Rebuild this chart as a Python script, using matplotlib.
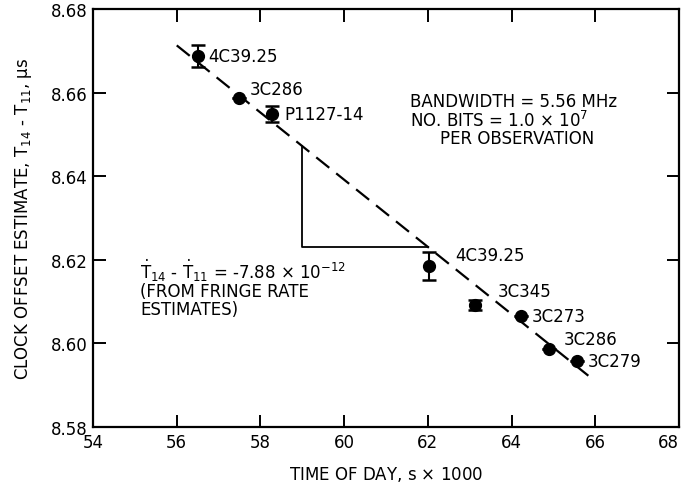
import matplotlib
matplotlib.use("Agg")
import matplotlib.pyplot as plt

plt.rcParams['font.family'] = ['DejaVu Sans']
plt.rcParams['mathtext.default'] = 'regular'

# ---- data ----
sources = ["4C39.25", "3C286", "P1127-14", "4C39.25", "3C345", "3C273", "3C286", "3C279"]
time_ks = [56.51, 57.49, 58.28, 62.03, 63.13, 64.22, 64.89, 65.56]
offset_us = [8.6688, 8.6587, 8.6549, 8.6185, 8.6092, 8.6066, 8.5987, 8.5958]
offset_err = [0.0026, 0.0, 0.0019, 0.0034, 0.0012, 0.0, 0.0, 0.0]
# label offsets (pixels) relative to each point
label_dx = [10, 11, 12, 26, 23, 11, 15, 11]
label_dy = [0, 9, 0, 11, 14, 0, 10, 0]

fit_x = [56.0, 65.93]
fit_y = [8.6713, 8.5915]
tri_x = [59.0, 59.0, 62.0]
tri_y = [8.6472, 8.623, 8.623]

x_ticks = [54, 56, 58, 60, 62, 64, 66, 68]
y_ticks = [8.58, 8.60, 8.62, 8.64, 8.66, 8.68]

W, H = 681.0, 489.0
fig = plt.figure(figsize=(6.81, 4.89), dpi=100)
ax = fig.add_axes([0.1366, 0.1247, 0.8605, 0.8548])

ax.plot(fit_x, fit_y, color='black', lw=1.6, linestyle=(0, (7.5, 4)), zorder=2)
ax.plot(tri_x, tri_y, color='black', lw=1.3, zorder=2)

ax.errorbar(time_ks, offset_us, yerr=offset_err, fmt='o', color='black',
            markersize=8.5, ecolor='black', elinewidth=1.5, capsize=5,
            capthick=1.8, zorder=3)

for name, x, y, dx, dy in zip(sources, time_ks, offset_us, label_dx, label_dy):
    ax.annotate(name, (x, y), xytext=(dx, dy), textcoords='offset pixels',
                ha='left', va='center', fontsize=12)


def ptext(px, py, s):
    fig.text(px / W, 1 - py / H, s, fontsize=12, ha='left', va='center')


ptext(410, 102, "BANDWIDTH = 5.56 MHz")
ptext(410, 121, r"NO. BITS = 1.0 $\times$ 10$^{7}$")
ptext(440, 139, "PER OBSERVATION")
ptext(140, 271, r"$\dot{T}_{14}$ - $\dot{T}_{11}$ = -7.88 $\times$ 10$^{-12}$")
ptext(140, 292, "(FROM FRINGE RATE")
ptext(140, 310, "ESTIMATES)")

ax.set_xlim(54, 68)
ax.set_ylim(8.58, 8.68)
ax.set_xticks(x_ticks)
ax.set_yticks(y_ticks)
ax.set_xticklabels([str(v) for v in x_ticks])
ax.set_yticklabels([f"{v:.2f}" for v in y_ticks])
ax.get_xticklabels()[-1].set_horizontalalignment('right')
ax.tick_params(direction='in', length=9, width=1.4, labelsize=12,
               top=True, right=True, pad=4)
for s in ax.spines.values():
    s.set_linewidth(1.6)

ax.set_xlabel(r"TIME OF DAY, s $\times$ 1000", fontsize=12, labelpad=10)
ax.set_ylabel(r"CLOCK OFFSET ESTIMATE, T$_{14}$ - T$_{11}$, $\mu$s",
              fontsize=12, labelpad=12)

fig.savefig("out.png", dpi=100)
